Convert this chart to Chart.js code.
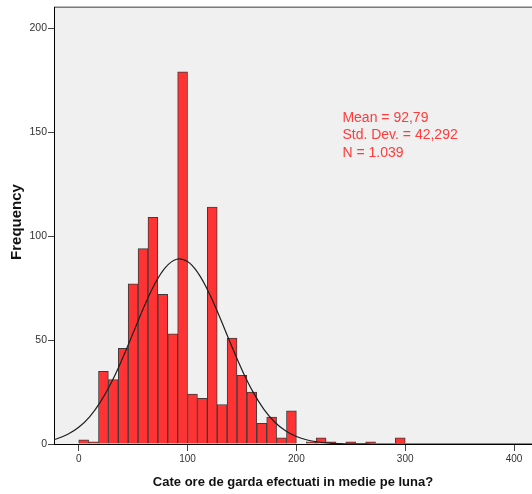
<!DOCTYPE html>
<html>
<head>
<meta charset="utf-8">
<script src="https://cdn.jsdelivr.net/npm/chart.js@4.4.1/dist/chart.umd.min.js"></script>
<style>
  html, body { margin: 0; padding: 0; background: #fff; overflow: hidden; }
</style>
</head>
<body>
<canvas id="histChart" width="532" height="494"></canvas>
<script>
// 33 bins of equal width between 0 and 300
const binWidth = 300 / 33;
const binStarts = [0, 9.09, 18.18, 27.27, 36.36, 45.45, 54.55, 63.64, 72.73, 81.82,
  90.91, 100, 109.09, 118.18, 127.27, 136.36, 145.45, 154.55, 163.64, 172.73,
  181.82, 190.91, 200, 209.09, 218.18, 227.27, 236.36, 245.45, 254.55, 263.64,
  272.73, 281.82, 290.91];
const frequencies = [2, 1, 35, 31, 46, 77, 94, 109, 72, 53,
  179, 24, 22, 114, 19, 51, 33, 25, 10, 13,
  3, 16, 0, 1, 3, 1, 0, 1, 0, 1,
  0, 0, 3];

// normal curve
const curveX = [-30, -20, -10, 0, 10, 20, 30, 40, 50, 60, 70, 80, 90, 100, 110, 120,
  130, 140, 150, 160, 170, 180, 190, 200, 210, 220, 230, 240, 250, 260, 270, 280,
  300, 340, 380, 420];
const curveY = [1.32, 2.54, 4.65, 8.03, 13.1, 20.3, 29.6, 40.9, 53.4, 66.0, 77.1, 85.1, 88.9, 87.8, 82.0, 72.4,
  60.5, 47.8, 35.7, 25.2, 16.8, 10.6, 6.35, 3.58, 1.91, 0.97, 0.46, 0.21, 0.09, 0.04, 0.01, 0,
  0, 0, 0, 0];

const xTicks = [0, 100, 200, 300, 400];
const yTicks = [0, 50, 100, 150, 200];
const statsLines = ["Mean = 92,79", "Std. Dev. = 42,292", "N = 1.039"];
const yTitle = "Frequency";

const font = "'Liberation Sans', Arial, sans-serif";

const frame = {
  id: "frame",
  beforeDraw(chart) {
    const { ctx, chartArea: a } = chart;
    ctx.save();
    ctx.fillStyle = "#f0f0f0";
    ctx.fillRect(a.left, a.top, a.right - a.left, a.bottom - a.top);
    ctx.strokeStyle = "#7a7a7a";
    ctx.lineWidth = 1.5;
    ctx.beginPath();
    ctx.moveTo(a.left, a.top);
    ctx.lineTo(a.right, a.top);
    ctx.stroke();
    ctx.restore();
  },
  afterDraw(chart) {
    const { ctx, scales } = chart;
    const x0 = scales.x.getPixelForValue(242.3);
    const y0 = scales.y.getPixelForValue(156.7);
    ctx.save();
    ctx.fillStyle = "#ff3b3b";
    ctx.font = "14px " + font;
    ctx.textBaseline = "middle";
    statsLines.forEach((t, i) => ctx.fillText(t, x0, y0 + i * 17.3));
    ctx.restore();

    // y axis title, a bit above the middle as in the original
    ctx.save();
    ctx.translate(17, 222);
    ctx.rotate(-Math.PI / 2);
    ctx.fillStyle = "#111";
    ctx.font = "bold 15px " + font;
    ctx.textAlign = "center";
    ctx.textBaseline = "middle";
    ctx.fillText(yTitle, 0, 0);
    ctx.restore();
  }
};

const ctx = document.getElementById("histChart").getContext("2d");
new Chart(ctx, {
  data: {
    datasets: [
      {
        type: "line",
        data: curveX.map((x, i) => ({ x: x, y: curveY[i] })),
        borderColor: "#1e1e1e",
        borderWidth: 1.2,
        pointRadius: 0,
        tension: 0.4,
        fill: false,
        order: 0,
      },
      {
        type: "bar",
        data: binStarts.map((s, i) => ({ x: s + binWidth / 2, y: frequencies[i] })),
        backgroundColor: "#ff3333",
        borderColor: "#3c3c3c",
        borderWidth: 1,
        borderSkipped: "start",
        barPercentage: 1,
        categoryPercentage: 1,
        order: 1,
      },
    ],
  },
  options: {
    responsive: false,
    animation: false,
    events: [],
    layout: { padding: { top: 7, right: 0, left: 0, bottom: 0 } },
    plugins: { legend: { display: false }, tooltip: { enabled: false } },
    scales: {
      x: {
        type: "linear",
        offset: false,
        min: -22.7,
        max: 416.5,
        afterBuildTicks: (axis) => { axis.ticks = xTicks.map((v) => ({ value: v })); },
        afterFit: (axis) => { axis.height = 50; },
        grid: { offset: false, drawOnChartArea: false, drawTicks: true, tickLength: 7, color: "#444" },
        border: { display: true, color: "#000", width: 1 },
        ticks: { color: "#333", font: { family: font, size: 10 }, padding: 2, maxRotation: 0 },
        title: {
          display: true,
          text: "Cate ore de garda efectuati in medie pe luna?",
          color: "#111",
          font: { family: font, size: 13, weight: "bold" },
          padding: { top: 0, bottom: 4 },
        },
      },
      y: {
        type: "linear",
        min: 0,
        max: 210.1,
        afterBuildTicks: (axis) => { axis.ticks = yTicks.map((v) => ({ value: v })); },
        afterFit: (axis) => { axis.width = 54; },
        grid: { drawOnChartArea: false, drawTicks: true, tickLength: 6, color: "#444" },
        border: { display: true, color: "#000", width: 1 },
        ticks: { color: "#333", font: { family: font, size: 10.5 }, padding: 1 },
      },
    },
  },
  plugins: [frame],
});
</script>
</body>
</html>
